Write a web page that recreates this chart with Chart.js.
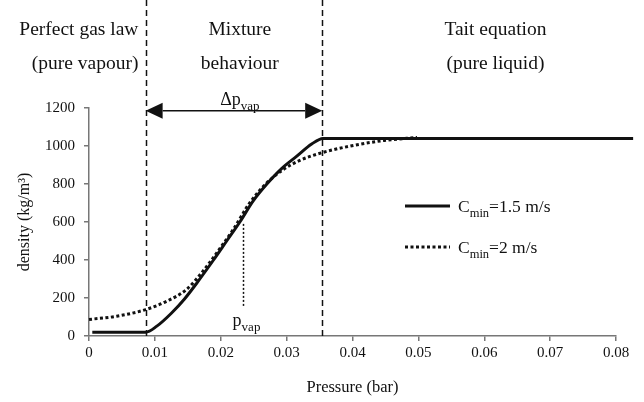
<!DOCTYPE html>
<html>
<head>
<meta charset="utf-8">
<script src="https://cdn.jsdelivr.net/npm/chart.js@4.4.1/dist/chart.umd.min.js"></script>
<style>
    html, body { margin: 0; padding: 0; background: #fff; }
    #wrap { width: 644px; height: 402px; }
</style>
</head>
<body>
<div id="wrap"><canvas id="rhoChart"></canvas></div>
<script>
// Density vs pressure for two Cmin values

// Cmin = 1.5 m/s (solid)
const pSolid = [0.0005, 0.0086, 0.0103, 0.0125, 0.0145, 0.0165, 0.0189, 0.0209, 0.0229, 0.0249, 0.0270, 0.0292, 0.0315, 0.0338, 0.0355, 0.0826];
const rhoSolid = [20, 20, 52, 120, 195, 285, 400, 500, 600, 710, 800, 880, 945, 1010, 1040, 1040];

// Cmin = 2 m/s (dotted)
const pDotted = [0, 0.0042, 0.0086, 0.0118, 0.0148, 0.0173, 0.0194, 0.0219, 0.0244, 0.0270, 0.0295, 0.0320, 0.0354, 0.0397, 0.0448, 0.0498];
const rhoDotted = [87, 104, 139, 183, 245, 341, 438, 561, 701, 806, 876, 924, 965, 1000, 1029, 1045];

const xTicks = [0, 0.01, 0.02, 0.03, 0.04, 0.05, 0.06, 0.07, 0.08];
const yTicks = [0, 200, 400, 600, 800, 1000, 1200];

// mixture zone edges and annotations (data units)
const zoneEdges = [0.0086, 0.0354];
const zoneLabels = [['Perfect gas law', '(pure vapour)'], ['Mixture', 'behaviour'], ['Tait equation', '(pure liquid)']];
const zoneLabelP = [0.0075, 0.0229, 0.0617];
const arrowRho = 1185;
const pVap = 0.0234;
const pVapRho = [155, 590];
const seriesNames = [['C', 'min', '=1.5 m/s'], ['C', 'min', '=2 m/s']];

const serif = "'Liberation Serif', 'DejaVu Serif', serif";
const ink = '#111';

function toPoints(xs, ys) {
    return xs.map((x, i) => ({ x, y: ys[i] }));
}

// text with a subscript part: base + sub + rest
function drawSubText(ctx, x, y, base, sub, rest, size, subSize, align) {
    const big = `${size}px ${serif}`;
    const small = `${subSize}px ${serif}`;
    ctx.font = big;
    const w1 = ctx.measureText(base).width;
    const w3 = ctx.measureText(rest).width;
    ctx.font = small;
    const w2 = ctx.measureText(sub).width;
    const total = w1 + w2 + w3;
    let sx = x;
    if (align === 'center') sx = x - total / 2;
    ctx.textAlign = 'left';
    ctx.textBaseline = 'alphabetic';
    ctx.font = big;
    ctx.fillText(base, sx, y);
    ctx.font = small;
    ctx.fillText(sub, sx + w1, y + size * 0.3);
    ctx.font = big;
    ctx.fillText(rest, sx + w1 + w2, y);
}

const annotations = {
    id: 'annotations',
    afterDatasetsDraw(chart) {
        const { ctx, chartArea: area, scales: { x, y } } = chart;
        const yBottom = y.getPixelForValue(0);
        ctx.save();
        ctx.fillStyle = ink;
        ctx.strokeStyle = ink;

        // zone boundaries
        ctx.lineWidth = 1.5;
        ctx.setLineDash([6, 4]);
        zoneEdges.forEach(p => {
            const px = Math.round(x.getPixelForValue(p)) + 0.5;
            ctx.beginPath();
            ctx.moveTo(px, 0);
            ctx.lineTo(px, yBottom + 3);
            ctx.stroke();
        });
        ctx.setLineDash([]);

        // double arrow
        const ax1 = x.getPixelForValue(zoneEdges[0]);
        const ax2 = x.getPixelForValue(zoneEdges[1]);
        const ay = y.getPixelForValue(arrowRho);
        const head = 17, half = 8;
        ctx.lineWidth = 1.5;
        ctx.beginPath();
        ctx.moveTo(ax1 + head, ay);
        ctx.lineTo(ax2 - head, ay);
        ctx.stroke();
        ctx.beginPath();
        ctx.moveTo(ax1, ay);
        ctx.lineTo(ax1 + head, ay - half);
        ctx.lineTo(ax1 + head, ay + half);
        ctx.closePath();
        ctx.fill();
        ctx.beginPath();
        ctx.moveTo(ax2, ay);
        ctx.lineTo(ax2 - head, ay - half);
        ctx.lineTo(ax2 - head, ay + half);
        ctx.closePath();
        ctx.fill();
        drawSubText(ctx, (ax1 + ax2) / 2 + 6, ay - 6, '\u0394p', 'vap', '', 18, 13, 'center');

        // p_vap marker
        const vx = Math.round(x.getPixelForValue(pVap)) + 0.5;
        ctx.lineWidth = 1.5;
        ctx.setLineDash([2, 2]);
        ctx.beginPath();
        ctx.moveTo(vx, y.getPixelForValue(pVapRho[1]));
        ctx.lineTo(vx, y.getPixelForValue(pVapRho[0]));
        ctx.stroke();
        ctx.setLineDash([]);
        drawSubText(ctx, vx + 3, yBottom - 10, 'p', 'vap', '', 18, 13, 'center');

        // zone labels above the plot
        ctx.font = `19.5px ${serif}`;
        ctx.textBaseline = 'alphabetic';
        zoneLabels.forEach((lines, i) => {
            const lx = x.getPixelForValue(zoneLabelP[i]);
            ctx.textAlign = i === 0 ? 'right' : 'center';
            ctx.fillText(lines[0], lx, area.top - 73);
            ctx.fillText(lines[1], lx, area.top - 39);
        });

        // legend
        const lx0 = area.left + 316, lx1 = area.left + 361;
        const rows = [area.top + 98, area.top + 139];
        ctx.lineWidth = 3;
        rows.forEach((ry, i) => {
            ctx.setLineDash(i === 0 ? [] : [3, 2.5]);
            ctx.beginPath();
            ctx.moveTo(lx0, ry);
            ctx.lineTo(lx1, ry);
            ctx.stroke();
            ctx.setLineDash([]);
            const [b, s, r] = seriesNames[i];
            drawSubText(ctx, lx1 + 8, ry + 6, b, s, r, 17.5, 12.5, 'left');
        });
        ctx.restore();
    }
};

Chart.defaults.font.family = serif;
Chart.defaults.color = ink;

const axisStyle = {
    grid: { display: true, drawOnChartArea: false, drawTicks: true, tickLength: 5, color: '#777', lineWidth: 1.5 },
    border: { display: true, color: '#777', width: 1.5 }
};

new Chart(document.getElementById('rhoChart'), {
    type: 'line',
    data: {
        datasets: [
            {
                label: 'Cmin=1.5 m/s',
                data: toPoints(pSolid, rhoSolid),
                borderColor: ink,
                borderWidth: 3,
                pointRadius: 0,
                cubicInterpolationMode: 'monotone',
                clip: false
            },
            {
                label: 'Cmin=2 m/s',
                data: toPoints(pDotted, rhoDotted),
                borderColor: ink,
                borderWidth: 3,
                borderDash: [3, 2.5],
                pointRadius: 0,
                cubicInterpolationMode: 'monotone',
                clip: false
            }
        ]
    },
    options: {
        responsive: true,
        maintainAspectRatio: false,
        animation: false,
        layout: { padding: { top: 108, right: 28, left: 0, bottom: 0 } },
        plugins: {
            legend: { display: false },
            tooltip: { enabled: false }
        },
        scales: {
            x: {
                type: 'linear',
                min: 0,
                max: 0.08,
                afterBuildTicks: (s) => { s.ticks = xTicks.map(v => ({ value: v })); },
                afterFit: (s) => { s.height = 66; },
                ticks: {
                    padding: 3,
                    maxRotation: 0,
                    font: { size: 15 },
                    callback: (v) => v === 0 ? '0' : v.toFixed(2)
                },
                title: {
                    display: true,
                    text: 'Pressure (bar)',
                    font: { size: 16.5 },
                    padding: { top: 0, bottom: 4 }
                },
                ...axisStyle
            },
            y: {
                min: 0,
                max: 1200,
                afterBuildTicks: (s) => { s.ticks = yTicks.map(v => ({ value: v })); },
                afterFit: (s) => { s.width = 89; },
                ticks: {
                    padding: 9,
                    font: { size: 15 },
                    callback: (v) => String(v)
                },
                title: {
                    display: true,
                    text: 'density (kg/m\u00b3)',
                    font: { size: 16 },
                    padding: { top: 15, bottom: 0 }
                },
                ...axisStyle
            }
        }
    },
    plugins: [annotations]
});
</script>
</body>
</html>
